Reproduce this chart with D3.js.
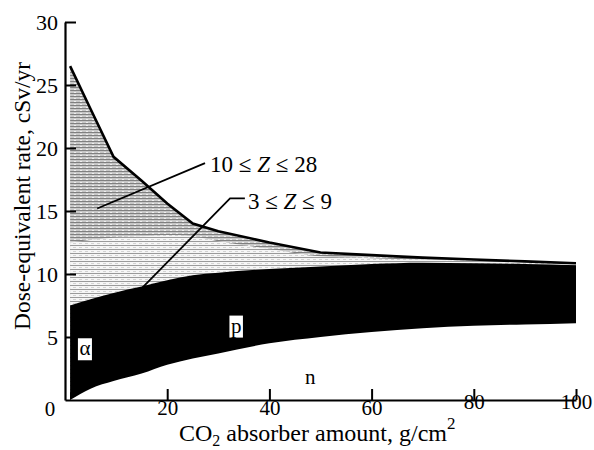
<!DOCTYPE html>
<html><head><meta charset="utf-8">
<script src="https://cdn.jsdelivr.net/npm/d3@7"></script>
<style>
body{margin:0;background:#fff;}
text{font-family:"Liberation Serif","Times New Roman",serif;fill:#000;}
</style></head>
<body>
<svg id="chart" width="594" height="450"></svg>
<script>
// ---- data ----
const absorber = [1, 5, 9.5, 15, 20, 25, 30, 40, 50, 60, 70, 80, 90, 100];
const seriesNames = ["n", "alpha", "p", "z3to9", "z10to28"];
const nDose      = [0.0, 0.9, 1.5, 2.1, 2.8, 3.3, 3.7, 4.5, 5.0, 5.4, 5.7, 5.9, 6.0, 6.1];
const alphaDose  = [0.6, 0.5, 0.45, 0.4, 0.35, 0.3, 0.3, 0.25, 0.2, 0.2, 0.2, 0.15, 0.15, 0.15];
const pDose      = [6.9, 6.6, 6.55, 6.5, 6.35, 6.3, 6.1, 5.65, 5.4, 5.2, 5.0, 4.8, 4.65, 4.45];
const z3to9Dose  = [5.0, 4.7, 4.4, 4.0, 3.6, 3.1, 2.5, 1.6, 0.8, 0.45, 0.25, 0.2, 0.15, 0.1];
const z10to28Dose= [14.0, 10.4, 6.4, 4.4, 2.5, 1.0, 0.8, 0.5, 0.3, 0.25, 0.15, 0.1, 0.05, 0.05];
const xTicks = [20, 40, 60, 80, 100];
const yTicks = [5, 10, 15, 20, 25, 30];

const x = d3.scaleLinear().domain([0, 100]).range([65, 576]);
const y = d3.scaleLinear().domain([0, 30]).range([400, 22]);

const svg = d3.select("#chart");
const defs = svg.append("defs");

// textures
const pd = defs.append("pattern").attr("id", "darkHatch").attr("patternUnits", "userSpaceOnUse")
  .attr("width", 6).attr("height", 3);
pd.append("rect").attr("width", 6).attr("height", 3).attr("fill", "#c8c8c8");
pd.append("rect").attr("y", 0).attr("width", 6).attr("height", 1).attr("fill", "#808080");
pd.append("rect").attr("x", 2).attr("y", 2).attr("width", 2).attr("height", 1).attr("fill", "#efefef");

const pl = defs.append("pattern").attr("id", "lightHatch").attr("patternUnits", "userSpaceOnUse")
  .attr("width", 6).attr("height", 4);
pl.append("rect").attr("width", 6).attr("height", 4).attr("fill", "#f6f6f6");
pl.append("rect").attr("y", 1).attr("width", 6).attr("height", 1).attr("fill", "#9a9a9a");
pl.append("rect").attr("x", 1).attr("y", 3).attr("width", 3).attr("height", 1).attr("fill", "#d2d2d2");

const rows = absorber.map((a, i) => ({
  x: a, n: nDose[i], alpha: alphaDose[i], p: pDose[i], z3to9: z3to9Dose[i], z10to28: z10to28Dose[i]
}));
const stacked = d3.stack().keys(seriesNames)(rows);
const fills = {n: "#ffffff", alpha: "#000000", p: "#000000", z3to9: "url(#lightHatch)", z10to28: "url(#darkHatch)"};

// painter's order: each layer filled from its cumulative top down to 0, top-most first
const layers = stacked.slice().reverse();
const gArea = svg.append("g");
layers.forEach(s => {
  const a = d3.area()
    .curve(s.key === "z10to28" ? d3.curveLinear : d3.curveMonotoneX)
    .x(d => x(d.data.x)).y0(y(0)).y1(d => y(d[1]));
  gArea.append("path").datum(s).attr("d", a).attr("fill", fills[s.key]);
});

// top outline (total)
const topSeries = stacked[stacked.length - 1];
svg.append("path").datum(topSeries)
  .attr("d", d3.line().x(d => x(d.data.x)).y(d => y(d[1])))
  .attr("fill", "none").attr("stroke", "#000").attr("stroke-width", 2.6);

// axes
const yAxis = d3.axisLeft(y).tickValues(yTicks).tickSize(-11).tickSizeOuter(0).tickPadding(7);
const gy = svg.append("g").attr("transform", `translate(${x(0)},0)`).call(yAxis);
const xAxis = d3.axisBottom(x).tickValues(xTicks).tickSize(-11).tickSizeOuter(0).tickPadding(0);
const gx = svg.append("g").attr("transform", `translate(0,${y(0)})`).call(xAxis);
[gx, gy].forEach(g => {
  g.select(".domain").attr("stroke", "#000").attr("stroke-width", 2.2);
  g.selectAll(".tick line").attr("stroke", "#000").attr("stroke-width", 2);
  g.selectAll(".tick text").style("font-family", '"Liberation Serif",serif').style("font-size", "22px").attr("fill", "#000");
});
gx.selectAll(".tick text").style("font-size", "21px").attr("dy", d => d >= 80 ? "0.45em" : "0.71em");
// origin label
svg.append("text").attr("x", x(0) - 15).attr("y", y(0) + 16).attr("text-anchor", "middle")
  .style("font-size", "21px").text("0");

// axis titles
const xt = svg.append("text").attr("x", 179).attr("y", 441).style("font-size", "24px");
xt.append("tspan").text("CO");
xt.append("tspan").attr("dy", 5).style("font-size", "16px").text("2");
xt.append("tspan").attr("dy", -5).text(" absorber amount, g/cm");
xt.append("tspan").attr("dy", -12).style("font-size", "17px").text("2");

svg.append("text").attr("transform", "translate(30,196) rotate(-90)").attr("text-anchor", "middle")
  .style("font-size", "23.5px").text("Dose-equivalent rate, cSv/yr");

// annotations (in data units)
const lead1 = [[6.3, 15.2], [27.4, 18.8]];
const lead2 = [[15.1, 8.9], [32.3, 16.0], [35.2, 16.0]];
const ln = d3.line().x(d => x(d[0])).y(d => y(d[1]));
svg.append("path").attr("d", ln(lead1)).attr("fill", "none").attr("stroke", "#000").attr("stroke-width", 1.8);
svg.append("path").attr("d", ln(lead2)).attr("fill", "none").attr("stroke", "#000").attr("stroke-width", 1.8);

function zLabel(px, py, a, b) {
  const t = svg.append("text").attr("x", x(px)).attr("y", y(py)).attr("dy", "0.35em").style("font-size", "23px");
  t.append("tspan").text(a + " \u2264 ");
  t.append("tspan").style("font-style", "italic").text("Z");
  t.append("tspan").text(" \u2264 " + b);
}
zLabel(28.4, 18.7, "10", "28");
zLabel(35.8, 15.8, "3", "9");

function boxLabel(px, py, s) {
  const g = svg.append("g");
  const t = g.append("text").attr("x", x(px)).attr("y", y(py)).attr("dy", "0.33em")
    .attr("text-anchor", "middle").style("font-size", "21px").text(s);
  const bb = t.node().getBBox();
  g.insert("rect", "text").attr("x", bb.x - 1.5).attr("y", bb.y + 2).attr("width", bb.width + 3)
    .attr("height", bb.height - 2).attr("fill", "#fff");
}
boxLabel(3.9, 4.1, "\u03b1");
boxLabel(33.5, 5.9, "p");
svg.append("text").attr("x", x(48)).attr("y", y(1.8)).attr("dy", "0.33em").attr("text-anchor", "middle")
  .style("font-size", "21px").text("n");
</script>
</body></html>
